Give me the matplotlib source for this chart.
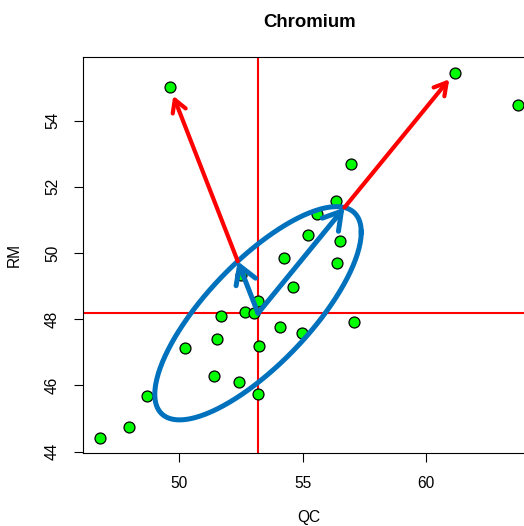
import numpy as np
import matplotlib
matplotlib.use("Agg")
import matplotlib.pyplot as plt
from matplotlib.patches import FancyArrowPatch

plt.rcParams['font.family'] = ['Liberation Sans', 'DejaVu Sans']

# data
qc = [49.64, 61.15, 63.71, 56.94, 56.37, 55.59, 55.23, 56.50, 54.27, 56.41,
      52.53, 54.62, 53.18, 52.67, 53.03, 51.72, 57.08, 54.09, 54.96, 51.55,
      50.24, 53.22, 51.43, 52.42, 48.72, 53.19, 47.99, 46.81]
rm = [55.01, 55.45, 54.47, 52.69, 51.58, 51.17, 50.55, 50.37, 49.84, 49.69,
      49.34, 48.97, 48.55, 48.23, 48.20, 48.10, 47.93, 47.78, 47.58, 47.40,
      47.12, 47.20, 46.30, 46.11, 45.69, 45.74, 44.76, 44.40]

# robust centre and tolerance-ellipse shape
center = (53.20, 48.18)
sd_qc, sd_rm, rho = 4.17, 3.22, 0.76
outlier_idx = [0, 1]  # points highlighted with arrows

x_ticks = [50, 55, 60]
y_ticks = [44, 46, 48, 50, 52, 54]

fig = plt.figure(figsize=(5.24, 5.26), dpi=100)
ax = fig.add_axes([0.1584, 0.1388, 0.8626, 0.7529])

# crosshair at centre
ax.axvline(center[0], color='red', lw=1.5, zorder=1)
ax.axhline(center[1], color='red', lw=1.5, zorder=1)

ax.scatter(qc, rm, s=62, facecolor='#00ff00', edgecolor='black', linewidth=0.9, zorder=2)

# ellipse
S = np.array([[sd_qc**2, rho*sd_qc*sd_rm], [rho*sd_qc*sd_rm, sd_rm**2]])
L = np.linalg.cholesky(S)
t = np.linspace(0, 2*np.pi, 300)
pts = L @ np.vstack([np.cos(t), np.sin(t)])
ax.plot(center[0] + pts[0], center[1] + pts[1], color='#0072BD', lw=3.6, zorder=3)

# arrows: blue from centre to ellipse, red from ellipse to point
Sinv = np.linalg.inv(S)
c = np.array(center)
for i in outlier_idx:
    p = np.array([qc[i], rm[i]])
    d = p - c
    md = np.sqrt(d @ Sinv @ d)
    edge = c + d / md
    end = edge + 0.95 * (p - edge)
    ax.add_patch(FancyArrowPatch(edge, end, arrowstyle='->,head_length=8.7,head_width=5',
                                 color='red', lw=3, shrinkA=0, shrinkB=0, zorder=4))
    ax.add_patch(FancyArrowPatch(c, edge, arrowstyle='->,head_length=12.5,head_width=7.5',
                                 color='#0072BD', lw=3.6, shrinkA=0, shrinkB=0, zorder=5))

ax.set_xlim(46.13, 64.39)
ax.set_ylim(43.96, 55.92)
ax.set_xticks(x_ticks)
ax.set_yticks(y_ticks)
ax.set_yticklabels([str(v) for v in y_ticks], rotation=90, va='center')
ax.tick_params(length=6.5, width=0.8, pad=10, labelsize=11.2)
for s in ax.spines.values():
    s.set_linewidth(0.8)

ax.set_xlabel('QC', fontsize=11.2, labelpad=14)
ax.set_ylabel('RM', fontsize=11.2, labelpad=17)
fig.text(0.59, 0.958, 'Chromium', ha='center', va='center', fontsize=13.4, fontweight='bold')

fig.savefig('out.png', dpi=100)
